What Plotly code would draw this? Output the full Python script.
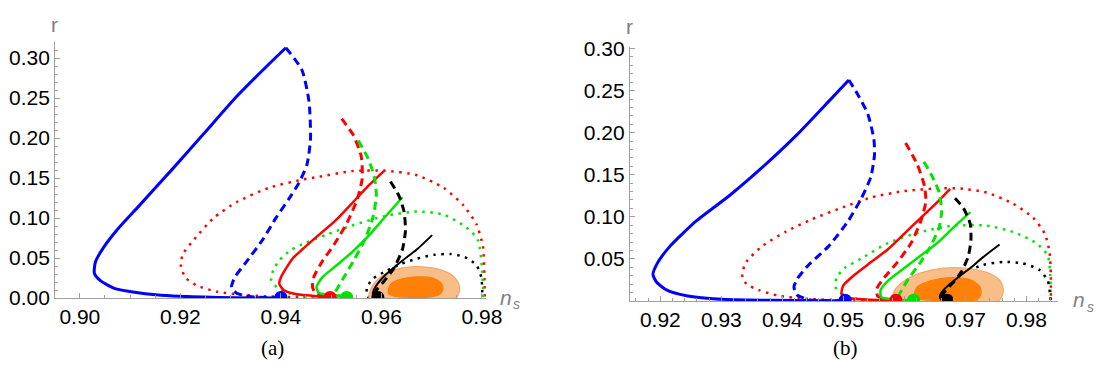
import plotly.graph_objects as go

# ---------------- panel (a) data ----------------
a_blue_solid_ns = [0.9400, 0.9310, 0.9246, 0.9180, 0.9116, 0.9070, 0.9041, 0.9029, 0.9031, 0.9047, 0.9076, 0.9116, 0.9181, 0.9246, 0.9312, 0.9377, 0.9410]
a_blue_solid_r = [0.0000, 0.0004, 0.0012, 0.0028, 0.0067, 0.0118, 0.0217, 0.0310, 0.0450, 0.0630, 0.0866, 0.1140, 0.1590, 0.2050, 0.2520, 0.2930, 0.3130]
a_blue_dash_ns = [0.9410, 0.9442, 0.9456, 0.9459, 0.9452, 0.9436, 0.9416, 0.9390, 0.9364, 0.9331, 0.9308, 0.9302, 0.9312, 0.9338, 0.9370, 0.9400]
a_blue_dash_r = [0.3130, 0.2850, 0.2460, 0.1990, 0.1670, 0.1440, 0.1240, 0.1000, 0.0730, 0.0450, 0.0256, 0.0138, 0.0059, 0.0020, 0.0006, 0.0000]

a_red_dot_ns = [0.9498, 0.9442, 0.9377, 0.9325, 0.9273, 0.9233, 0.9210, 0.9201, 0.9205, 0.9227, 0.9266, 0.9312, 0.9377, 0.9442, 0.9475, 0.9541, 0.9606, 0.9671, 0.9724, 0.9763, 0.9789, 0.9802, 0.9805, 0.9806]
a_red_dot_r = [0.0000, 0.0010, 0.0020, 0.0040, 0.0079, 0.0157, 0.0256, 0.0410, 0.0550, 0.0730, 0.1000, 0.1200, 0.1380, 0.1480, 0.1516, 0.1587, 0.1594, 0.1535, 0.1378, 0.1161, 0.0925, 0.0650, 0.0300, 0.0000]
a_green_dot_ns = [0.9531, 0.9480, 0.9442, 0.9416, 0.9395, 0.9381, 0.9385, 0.9398, 0.9420, 0.9449, 0.9490, 0.9541, 0.9606, 0.9671, 0.9724, 0.9769, 0.9792, 0.9800, 0.9803]
a_green_dot_r = [0.0000, 0.0010, 0.0030, 0.0060, 0.0120, 0.0220, 0.0350, 0.0480, 0.0600, 0.0690, 0.0790, 0.0906, 0.1024, 0.1083, 0.1043, 0.0886, 0.0729, 0.0400, 0.0000]
a_black_dot_ns = [0.9593, 0.9575, 0.9570, 0.9573, 0.9585, 0.9610, 0.9640, 0.9671, 0.9704, 0.9737, 0.9766, 0.9789, 0.9799, 0.9801]
a_black_dot_r = [0.0000, 0.0010, 0.0040, 0.0157, 0.0250, 0.0340, 0.0430, 0.0492, 0.0540, 0.0551, 0.0512, 0.0413, 0.0256, 0.0000]

a_red_solid_ns = [0.9498, 0.9462, 0.9429, 0.9406, 0.9397, 0.9400, 0.9423, 0.9443, 0.9475, 0.9508, 0.9541, 0.9573, 0.9606]
a_red_solid_r = [0.0000, 0.0028, 0.0051, 0.0098, 0.0177, 0.0256, 0.0492, 0.0610, 0.0787, 0.0965, 0.1181, 0.1397, 0.1594]
a_red_dash_ns = [0.9521, 0.9545, 0.9560, 0.9562, 0.9555, 0.9550, 0.9532, 0.9506, 0.9482, 0.9466, 0.9463, 0.9469, 0.9488, 0.9498]
a_red_dash_r = [0.2244, 0.2028, 0.1770, 0.1500, 0.1300, 0.1200, 0.0945, 0.0670, 0.0453, 0.0270, 0.0138, 0.0059, 0.0028, 0.0000]
a_green_solid_ns = [0.9531, 0.9521, 0.9495, 0.9475, 0.9471, 0.9482, 0.9508, 0.9541, 0.9573, 0.9606, 0.9642]
a_green_solid_r = [0.0000, 0.0028, 0.0039, 0.0067, 0.0138, 0.0256, 0.0394, 0.0570, 0.0768, 0.1004, 0.1260]
a_green_dash_ns = [0.9554, 0.9573, 0.9586, 0.9590, 0.9583, 0.9567, 0.9547, 0.9527, 0.9514, 0.9508, 0.9520, 0.9531]
a_green_dash_r = [0.1969, 0.1752, 0.1516, 0.1279, 0.1004, 0.0729, 0.0492, 0.0276, 0.0138, 0.0059, 0.0015, 0.0000]
a_black_dash_ns = [0.9618, 0.9635, 0.9645, 0.9648, 0.9642, 0.9625, 0.9606, 0.9590, 0.9588, 0.9593]
a_black_dash_r = [0.1457, 0.1279, 0.1083, 0.0847, 0.0610, 0.0374, 0.0216, 0.0098, 0.0040, 0.0000]
a_black_solid_ns = [0.9593, 0.9585, 0.9583, 0.9590, 0.9606, 0.9639, 0.9671, 0.9701]
a_black_solid_r = [0.0000, 0.0020, 0.0059, 0.0157, 0.0276, 0.0453, 0.0610, 0.0787]

a_outer_ns = [0.9576, 0.9581, 0.9593, 0.9612, 0.9639, 0.9671, 0.9704, 0.9733, 0.9751, 0.9756, 0.9753, 0.9748, 0.9576]
a_outer_r = [0.0000, 0.0138, 0.0236, 0.0315, 0.0374, 0.0394, 0.0374, 0.0315, 0.0216, 0.0118, 0.0039, 0.0000, 0.0000]
a_inner_ns = [0.9614, 0.9619, 0.9639, 0.9671, 0.9704, 0.9720, 0.9722, 0.9714, 0.9690, 0.9650, 0.9625, 0.9614]
a_inner_r = [0.0059, 0.0177, 0.0236, 0.0264, 0.0248, 0.0177, 0.0098, 0.0039, 0.0010, 0.0010, 0.0025, 0.0059]

a_dots_ns = [0.9400, 0.9498, 0.9531, 0.9593]

# ---------------- panel (b) data ----------------
b_blue_solid_ns = [0.9503, 0.9422, 0.9341, 0.9286, 0.9243, 0.9211, 0.9194, 0.9188, 0.9195, 0.9216, 0.9259, 0.9313, 0.9367, 0.9422, 0.9476, 0.9509]
b_blue_solid_r = [0.0000, 0.0004, 0.0011, 0.0026, 0.0060, 0.0127, 0.0221, 0.0314, 0.0446, 0.0651, 0.0951, 0.1250, 0.1586, 0.1961, 0.2372, 0.2627]
b_blue_dash_ns = [0.9509, 0.9524, 0.9540, 0.9550, 0.9551, 0.9545, 0.9529, 0.9508, 0.9476, 0.9443, 0.9424, 0.9419, 0.9424, 0.9443, 0.9475, 0.9503]
b_blue_dash_r = [0.2627, 0.2448, 0.2223, 0.1923, 0.1737, 0.1474, 0.1213, 0.0951, 0.0651, 0.0427, 0.0258, 0.0165, 0.0071, 0.0015, 0.0004, 0.0000]

b_red_dot_ns = [0.9586, 0.9486, 0.9438, 0.9394, 0.9362, 0.9341, 0.9334, 0.9341, 0.9367, 0.9405, 0.9448, 0.9500, 0.9546, 0.9600, 0.9654, 0.9692, 0.9735, 0.9778, 0.9811, 0.9830, 0.9838, 0.9840, 0.9840]
b_red_dot_r = [0.0000, 0.0010, 0.0026, 0.0060, 0.0127, 0.0202, 0.0314, 0.0464, 0.0651, 0.0820, 0.0969, 0.1115, 0.1231, 0.1306, 0.1336, 0.1336, 0.1288, 0.1156, 0.0988, 0.0800, 0.0576, 0.0300, 0.0000]
b_green_dot_ns = [0.9615, 0.9540, 0.9518, 0.9497, 0.9487, 0.9489, 0.9502, 0.9529, 0.9573, 0.9627, 0.9681, 0.9735, 0.9778, 0.9816, 0.9835, 0.9839, 0.9840]
b_green_dot_r = [0.0000, 0.0010, 0.0030, 0.0082, 0.0165, 0.0277, 0.0390, 0.0502, 0.0688, 0.0820, 0.0895, 0.0895, 0.0820, 0.0688, 0.0539, 0.0314, 0.0000]
b_black_dot_ns = [0.9670, 0.9655, 0.9652, 0.9660, 0.9680, 0.9705, 0.9729, 0.9762, 0.9794, 0.9821, 0.9835, 0.9839, 0.9840]
b_black_dot_r = [0.0000, 0.0010, 0.0050, 0.0150, 0.0260, 0.0360, 0.0427, 0.0464, 0.0446, 0.0370, 0.0239, 0.0053, 0.0000]

b_red_solid_ns = [0.9586, 0.9546, 0.9508, 0.9497, 0.9500, 0.9519, 0.9546, 0.9573, 0.9600, 0.9627, 0.9654, 0.9675]
b_red_solid_r = [0.0000, 0.0015, 0.0034, 0.0090, 0.0183, 0.0314, 0.0464, 0.0614, 0.0800, 0.0988, 0.1175, 0.1333]
b_red_dash_ns = [0.9602, 0.9621, 0.9633, 0.9635, 0.9627, 0.9611, 0.9589, 0.9567, 0.9555, 0.9556, 0.9570, 0.9586]
b_red_dash_r = [0.1878, 0.1624, 0.1362, 0.1175, 0.0951, 0.0688, 0.0464, 0.0277, 0.0146, 0.0060, 0.0015, 0.0000]
b_green_solid_ns = [0.9615, 0.9584, 0.9562, 0.9561, 0.9573, 0.9600, 0.9627, 0.9654, 0.9681, 0.9708]
b_green_solid_r = [0.0000, 0.0015, 0.0045, 0.0127, 0.0239, 0.0390, 0.0539, 0.0688, 0.0876, 0.1055]
b_green_dash_ns = [0.9632, 0.9646, 0.9657, 0.9661, 0.9657, 0.9643, 0.9627, 0.9608, 0.9597, 0.9591, 0.9600, 0.9615]
b_green_dash_r = [0.1654, 0.1474, 0.1288, 0.1063, 0.0876, 0.0651, 0.0464, 0.0277, 0.0146, 0.0053, 0.0012, 0.0000]
b_black_dash_ns = [0.9683, 0.9697, 0.9708, 0.9709, 0.9705, 0.9694, 0.9678, 0.9664, 0.9662, 0.9670]
b_black_dash_r = [0.1220, 0.1100, 0.0913, 0.0726, 0.0539, 0.0351, 0.0202, 0.0090, 0.0034, 0.0000]
b_black_solid_ns = [0.9670, 0.9660, 0.9658, 0.9664, 0.9681, 0.9708, 0.9729, 0.9756]
b_black_solid_r = [0.0000, 0.0020, 0.0053, 0.0127, 0.0239, 0.0390, 0.0520, 0.0670]

b_outer_ns = [0.9581, 0.9584, 0.9600, 0.9627, 0.9665, 0.9708, 0.9741, 0.9757, 0.9762, 0.9760, 0.9754, 0.9581]
b_outer_r = [0.0000, 0.0127, 0.0239, 0.0333, 0.0390, 0.0382, 0.0322, 0.0239, 0.0146, 0.0053, 0.0000, 0.0000]
b_inner_ns = [0.9616, 0.9621, 0.9643, 0.9675, 0.9708, 0.9724, 0.9725, 0.9719, 0.9690, 0.9650, 0.9625, 0.9616]
b_inner_r = [0.0053, 0.0165, 0.0239, 0.0277, 0.0250, 0.0165, 0.0071, 0.0015, 0.0005, 0.0005, 0.0020, 0.0053]

b_dots_ns = [0.9503, 0.9586, 0.9615, 0.9670]

dot_colors = ["#0000FF", "#FF0000", "#00E000", "#000000"]
a_yticks = [0.00, 0.05, 0.10, 0.15, 0.20, 0.25, 0.30]
b_yticks = [0.05, 0.10, 0.15, 0.20, 0.25, 0.30]

BLUE, RED, GREEN, BLACK = "#0000FF", "#FF0000", "#00E600", "#000000"
DASH = "8px,5px"
DOT = "2.5px,5.5px"

fig = go.Figure()


def line(xs, ys, color, width, dash, ax):
    fig.add_trace(go.Scatter(x=xs, y=ys, mode="lines", xaxis="x" + ax, yaxis="y" + ax,
                             line=dict(color=color, width=width, dash=dash, shape="spline", smoothing=0.6),
                             hoverinfo="skip", showlegend=False))


def region(xs, ys, fill, edge, ax):
    fig.add_trace(go.Scatter(x=xs, y=ys, mode="lines", fill="toself", fillcolor=fill,
                             xaxis="x" + ax, yaxis="y" + ax,
                             line=dict(color=edge, width=1.2, shape="spline", smoothing=0.8),
                             hoverinfo="skip", showlegend=False))


for ax, D in (("", "a"), ("2", "b")):
    g = globals()
    line(g[D + "_red_dot_ns"], g[D + "_red_dot_r"], RED, 2.5, DOT, ax)
    line(g[D + "_green_dot_ns"], g[D + "_green_dot_r"], GREEN, 2.5, DOT, ax)
    line(g[D + "_black_dot_ns"], g[D + "_black_dot_r"], BLACK, 2.5, DOT, ax)
    region(g[D + "_outer_ns"], g[D + "_outer_r"], "rgba(249,190,135,1)", "#F6A865", ax)
    region(g[D + "_inner_ns"], g[D + "_inner_r"], "rgba(255,128,8,1)", "rgba(255,128,8,1)", ax)
    line(g[D + "_blue_solid_ns"], g[D + "_blue_solid_r"], BLUE, 3, "solid", ax)
    line(g[D + "_blue_dash_ns"], g[D + "_blue_dash_r"], BLUE, 3, DASH, ax)
    line(g[D + "_red_solid_ns"], g[D + "_red_solid_r"], RED, 2.5, "solid", ax)
    line(g[D + "_red_dash_ns"], g[D + "_red_dash_r"], RED, 3, DASH, ax)
    line(g[D + "_green_solid_ns"], g[D + "_green_solid_r"], GREEN, 2.5, "solid", ax)
    line(g[D + "_green_dash_ns"], g[D + "_green_dash_r"], GREEN, 3, DASH, ax)
    line(g[D + "_black_dash_ns"], g[D + "_black_dash_r"], BLACK, 3, DASH, ax)
    line(g[D + "_black_solid_ns"], g[D + "_black_solid_r"], BLACK, 2, "solid", ax)
    dots = g[D + "_dots_ns"]
    fig.add_trace(go.Scatter(x=dots, y=[0.0008] * len(dots), mode="markers", xaxis="x" + ax, yaxis="y" + ax,
                             marker=dict(size=13, color=dot_colors), hoverinfo="skip", showlegend=False))

AXC = "#A0A0A0"
tickfont = dict(family="Liberation Sans, Arial, sans-serif", size=21, color="black")
common = dict(showline=True, linecolor=AXC, linewidth=1, showgrid=False, zeroline=False,
              ticks="inside", ticklen=5, tickcolor=AXC, tickwidth=1, tickfont=tickfont,
              tickformat=".2f", fixedrange=True)

fig.update_layout(
    width=1112, height=378, margin=dict(l=0, r=0, t=0, b=0),
    paper_bgcolor="white", plot_bgcolor="white",
    xaxis=dict(domain=[56 / 1112, 493 / 1112], range=[0.8951, 0.9808], dtick=0.02, tick0=0.90,
               anchor="y", minor=dict(dtick=0.005, ticks="inside", ticklen=3, tickcolor=AXC), **common),
    yaxis=dict(domain=[1 - 305 / 378, 1 - 34 / 378], range=[0, 0.32], tickvals=a_yticks,
               anchor="x", minor=dict(dtick=0.01, ticks="inside", ticklen=3, tickcolor=AXC), **common),
    xaxis2=dict(domain=[639 / 1112, 1073 / 1112], range=[0.9150, 0.9851], dtick=0.01, tick0=0.92,
                anchor="y2", minor=dict(dtick=0.002, ticks="inside", ticklen=3, tickcolor=AXC), **common),
    yaxis2=dict(domain=[1 - 308 / 378, 1 - 39.3 / 378], range=[0, 0.3017], tickvals=b_yticks,
                anchor="x2", minor=dict(dtick=0.01, ticks="inside", ticklen=3, tickcolor=AXC), **common),
)

labfont = dict(family="Liberation Sans, Arial, sans-serif", size=21, color="#808080")
nfont = dict(family="Liberation Sans, Arial, sans-serif", size=21, color="#808080", style="italic")
sfont = dict(family="Liberation Sans, Arial, sans-serif", size=14, color="#808080", style="italic")
capfont = dict(family="Liberation Serif, DejaVu Serif, serif", size=21, color="black")
annots = [
    dict(x=55 / 1112, y=1 - 15 / 378, text="r", font=labfont),
    dict(x=639 / 1112, y=1 - 17 / 378, text="r", font=labfont),
    dict(x=513 / 1112, y=1 - 304 / 378, text="n", font=nfont),
    dict(x=524 / 1112, y=1 - 311 / 378, text="s", font=sfont),
    dict(x=1095 / 1112, y=1 - 307 / 378, text="n", font=nfont),
    dict(x=1106 / 1112, y=1 - 314 / 378, text="s", font=sfont),
    dict(x=276 / 1112, y=1 - 358 / 378, text="(a)", font=capfont),
    dict(x=858 / 1112, y=1 - 358 / 378, text="(b)", font=capfont),
]
for a in annots:
    fig.add_annotation(xref="paper", yref="paper", showarrow=False, xanchor="center", yanchor="middle", **a)

fig.write_html("out.html")
